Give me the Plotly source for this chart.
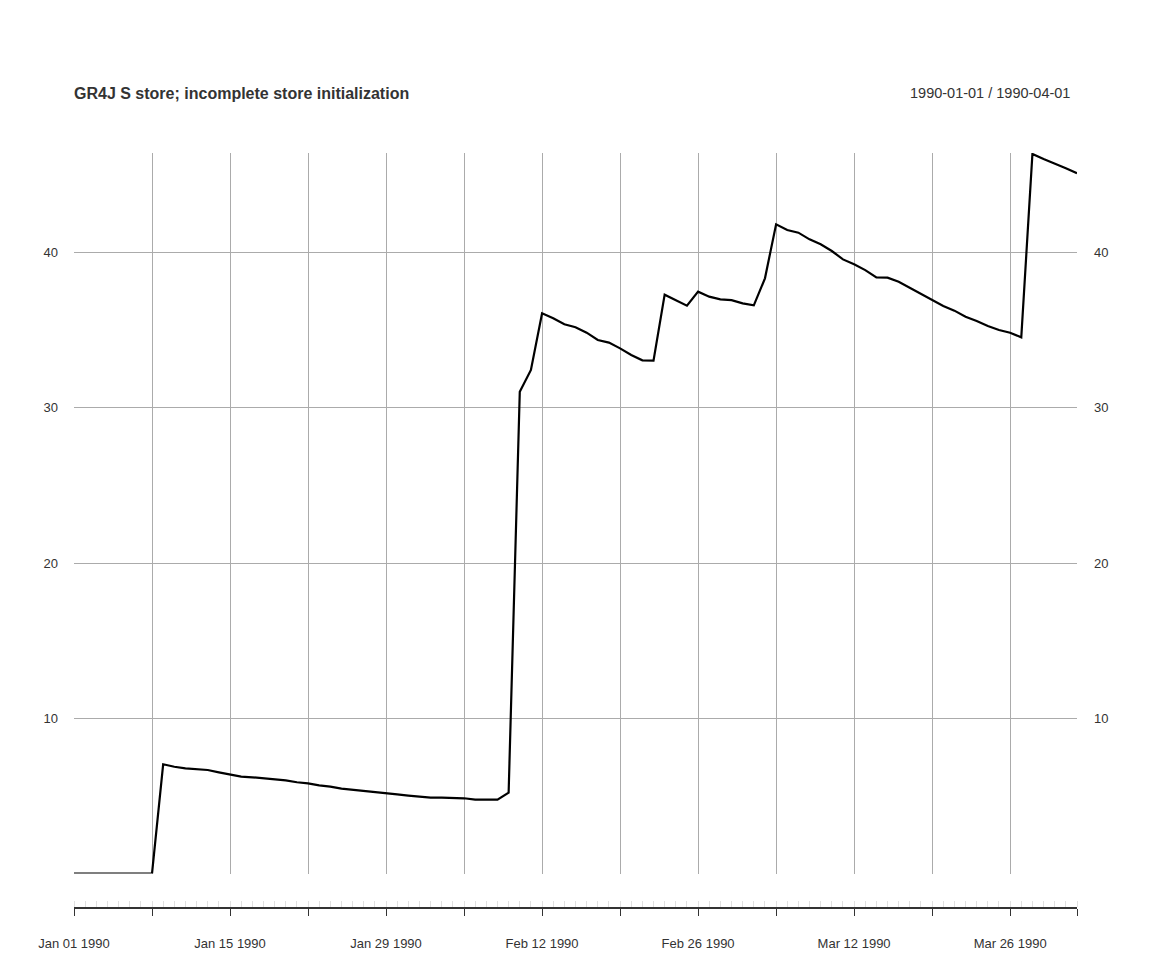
import pandas as pd
import plotly.graph_objects as go

dates = pd.date_range("1990-01-01", "1990-04-01", freq="D")
store = [
    0, 0, 0, 0, 0, 0, 0, 0,
    7.04, 6.88, 6.78, 6.71, 6.67, 6.52, 6.39, 6.24, 6.20, 6.13, 6.07, 6.00,
    5.88, 5.81, 5.68, 5.60, 5.47, 5.40, 5.34, 5.27, 5.21, 5.10, 5.02, 4.95,
    4.89, 4.89, 4.87, 4.85, 4.76, 4.76, 4.76, 5.21,
    31.03, 32.43, 36.08, 35.76, 35.37, 35.18, 34.83, 34.36, 34.19, 33.82,
    33.39, 33.05, 33.03, 37.28, 36.93, 36.57, 37.47, 37.15, 36.98, 36.93,
    36.72, 36.59, 38.33, 41.81, 41.44, 41.27, 40.84, 40.52, 40.09, 39.55,
    39.23, 38.86, 38.39, 38.37, 38.11, 37.73, 37.32, 36.93, 36.55, 36.25,
    35.86, 35.58, 35.26, 35.00, 34.83, 34.53, 46.34, 46.01, 45.74, 45.42, 45.10,
]
title_text = "GR4J S store; incomplete store initialization"
range_text = "1990-01-01 / 1990-04-01"
week_ticks = pd.date_range("1990-01-01", "1990-03-26", freq="7D")
label_fmt = "%b %d %Y"
y_ticks = [10, 20, 30, 40]

tick_vals = list(week_ticks) + [dates[-1]]
tick_text = [d.strftime(label_fmt) if i % 2 == 0 else "" for i, d in enumerate(week_ticks)] + [""]

FONT = "Liberation Sans, Arial, sans-serif"
xr = [dates[0], dates[-1]]
yr = [0, 46.4]

fig = go.Figure()
fig.add_trace(go.Scatter(x=dates, y=store, mode="lines",
                         line=dict(color="black", width=2.2), showlegend=False,
                         xaxis="x", yaxis="y"))
# invisible helper traces so overlay axes render
fig.add_trace(go.Scatter(x=dates, y=store, mode="lines", line=dict(width=0),
                         opacity=0, showlegend=False, hoverinfo="skip",
                         xaxis="x2", yaxis="y"))
fig.add_trace(go.Scatter(x=dates, y=store, mode="lines", line=dict(width=0),
                         opacity=0, showlegend=False, hoverinfo="skip",
                         xaxis="x", yaxis="y2"))

# page has an 8px body margin; coordinates below are figure coordinates
plot_top, plot_bottom_axis, zero_px = 145, 900, 865.6
dom_lo = (plot_bottom_axis - zero_px) / (plot_bottom_axis - plot_top)

fig.update_layout(
    width=1152, height=960,
    margin=dict(l=66, r=83, t=plot_top, b=960 - plot_bottom_axis),
    paper_bgcolor="white", plot_bgcolor="white",
    font=dict(family=FONT, size=13, color="#333333"),
    xaxis=dict(type="date", range=xr, anchor="y",
               tickvals=tick_vals, showticklabels=False, ticks="",
               showgrid=True, gridcolor="#ababab", gridwidth=1,
               zeroline=False, showline=False),
    xaxis2=dict(type="date", range=xr, overlaying="x", anchor="free", position=0,
                tickvals=tick_vals, ticktext=tick_text, ticks="outside",
                ticklen=7, tickwidth=1.3, tickcolor="#333333",
                showline=True, linecolor="#333333", linewidth=1.5,
                showgrid=False, zeroline=False, ticklabelstandoff=17,
                tickfont=dict(family=FONT, size=13, color="#333333"),
                minor=dict(ticks="inside", ticklen=6, tickcolor="#e0e0e0",
                           tickwidth=1, dtick=86400000, showgrid=False)),
    yaxis=dict(range=yr, domain=[dom_lo, 1], tickvals=y_ticks, ticks="",
               showgrid=True, gridcolor="#ababab", gridwidth=1,
               zeroline=False, showline=False, ticklabelstandoff=15,
               tickfont=dict(family=FONT, size=13, color="#333333")),
    yaxis2=dict(range=yr, overlaying="y", side="right", anchor="x",
                tickvals=y_ticks, ticks="", showgrid=False, zeroline=False,
                showline=False, ticklabelstandoff=16,
                tickfont=dict(family=FONT, size=13, color="#333333")),
    annotations=[
        dict(text="<b>" + title_text + "</b>", xref="paper", yref="paper",
             x=0, y=1, xanchor="left", yanchor="middle", xshift=-2,
             yshift=(plot_top - 85), showarrow=False,
             font=dict(family=FONT, size=16, color="#333333")),
        dict(text=range_text, xref="paper", yref="paper",
             x=1, y=1, xanchor="right", yanchor="middle", xshift=-5,
             yshift=(plot_top - 85), showarrow=False,
             font=dict(family=FONT, size=14.5, color="#333333")),
    ],
)

fig.write_html("out.html")
